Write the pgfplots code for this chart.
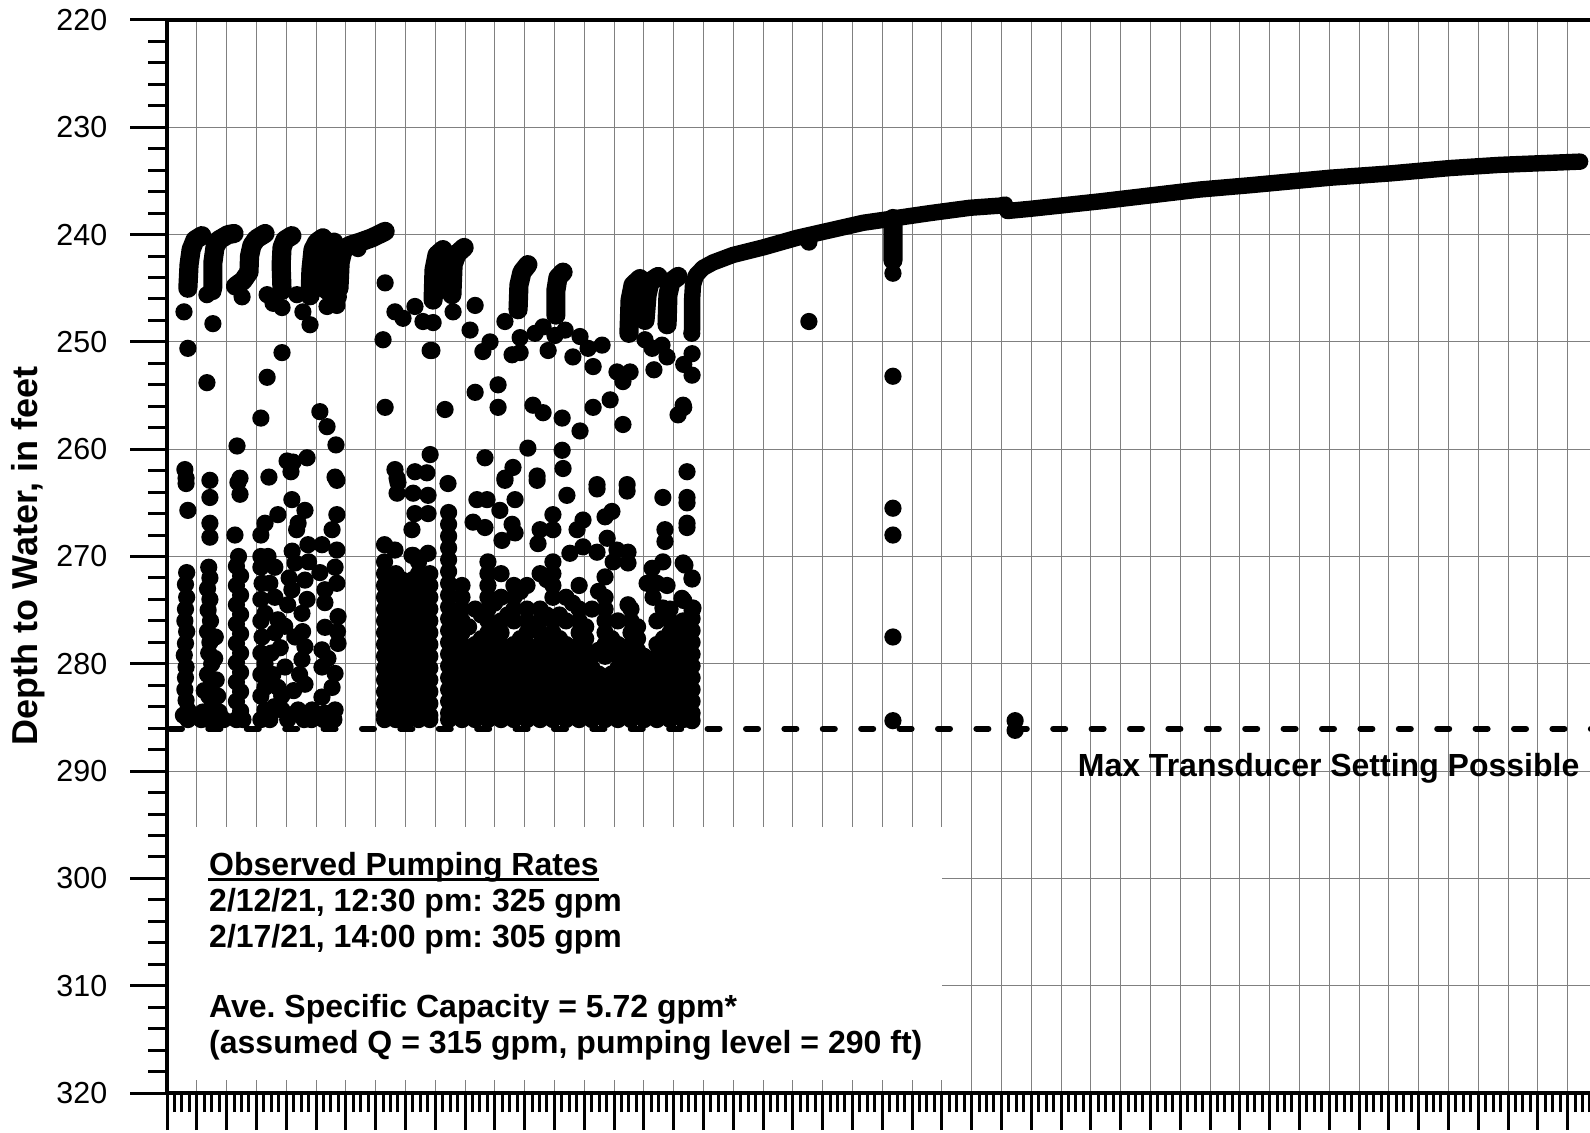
\documentclass[border=0pt]{standalone}
\usepackage{fontspec}
\setmainfont{Liberation Sans}
\usepackage{pgfplots}
\pgfplotsset{compat=1.18}
\usepackage{pgfplotstable}

% recovery arcs recorded between pumping cycles (nan separates arcs)
\pgfplotstableread{
day depth
0.70 245.0
0.74 242.8
0.81 241.4
0.94 240.5
1.17 240.1
nan nan
1.54 244.9
1.54 242.6
1.61 241.2
1.74 240.5
2.05 240.0
2.25 239.9
nan nan
2.30 244.8
2.55 244.3
2.75 243.5
2.77 242.0
2.85 241.0
3.00 240.4
3.29 239.9
nan nan
3.86 245.2
3.83 242.8
3.86 241.2
3.96 240.5
4.19 240.1
nan nan
4.80 245.7
4.83 243.3
4.90 241.4
5.03 240.7
5.23 240.3
nan nan
5.37 245.2
5.44 242.8
5.50 241.2
5.60 240.7
nan nan
5.77 245.0
5.81 242.6
5.91 241.4
6.14 241.0
6.48 240.7
6.88 240.3
7.32 239.7
nan nan
8.93 246.1
8.96 243.3
9.06 241.9
9.26 241.4
nan nan
9.56 245.6
9.60 242.8
9.73 241.8
9.97 241.2
nan nan
11.78 247.0
11.81 244.7
11.91 243.5
12.11 242.8
nan nan
13.05 247.5
13.05 245.2
13.12 244.0
13.29 243.5
nan nan
15.50 249.2
15.54 246.1
15.64 244.7
15.87 244.1
nan nan
16.04 248.0
16.11 245.6
16.21 244.4
16.48 243.9
nan nan
16.78 248.4
16.81 245.6
16.91 244.4
17.15 243.9
nan nan
24.36 238.5
24.36 242.4
}\hooks

% final recovery after the pump was shut off
\pgfplotstableread{
day depth
17.62 248.9
17.62 246.1
17.65 244.7
17.75 243.8
17.99 243.1
18.32 242.6
18.99 241.9
20.00 241.2
21.14 240.3
22.25 239.6
23.36 238.9
24.36 238.5
25.60 238.0
26.95 237.5
27.95 237.3
28.12 237.2
nan nan
28.20 237.8
28.96 237.6
31.31 236.9
34.66 235.8
36.34 235.4
39.03 234.7
41.04 234.3
43.05 233.8
44.73 233.5
47.42 233.2
}\recovery

\pgfplotsset{reading/.style={only marks, mark=*, mark size=1.95pt, black}}

\begin{document}
\frenchspacing
\begin{tikzpicture}
\useasboundingbox (-41.75pt,-9.75pt) rectangle (355.75pt,273.25pt);
\begin{axis}[
  at={(0pt,0pt)}, anchor=south west,
  scale only axis, width=365.05pt, height=268.25pt,
  xmin=0, xmax=49, ymin=220, ymax=320, y dir=reverse,
  xtick distance=1, minor x tick num=3, xticklabels={},
  ytick distance=10, minor y tick num=4,
  tick align=outside, tick pos=left,
  major tick length=9.25pt, minor tick length=4.75pt,
  every tick/.append style={black, line width=0.75pt},
  grid=major, major grid style={black!50, line width=0.25pt},
  axis line style={line width=0.9pt},
  /pgf/number format/assume math mode=true,
  yticklabel style={font=\fontsize{7.6}{9}\selectfont, inner sep=0pt, xshift=-5.5pt},
]
% note area
\fill[white] (axis cs:0.07,295.2) rectangle (axis cs:26.0,318.8);
\node[anchor=base west, inner sep=0pt, font=\bfseries\fontsize{8}{9.6}\selectfont] (obs) at (axis cs:1.39,299.7) {Observed Pumping Rates};
\draw[line width=0.75pt] ([yshift=-1pt]obs.base west) -- ([yshift=-1pt]obs.base east);
\node[anchor=base west, inner sep=0pt, font=\bfseries\fontsize{8}{9.6}\selectfont] at (axis cs:1.39,303.1) {2/12/21, 12:30 pm: 325 gpm};
\node[anchor=base west, inner sep=0pt, font=\bfseries\fontsize{8}{9.6}\selectfont] at (axis cs:1.39,306.4) {2/17/21, 14:00 pm: 305 gpm};
\node[anchor=base west, inner sep=0pt, font=\bfseries\fontsize{8}{9.6}\selectfont] at (axis cs:1.39,313.0) {Ave. Specific Capacity = 5.72 gpm*};
\node[anchor=base west, inner sep=0pt, font=\bfseries\fontsize{8}{9.6}\selectfont] at (axis cs:1.39,316.3) {(assumed Q = 315 gpm, pumping level = 290 ft)};

% transducer limit
\addplot[black, line width=1.5pt, line cap=round, dash pattern=on 3pt off 6.6pt] coordinates {(0.1,286.05) (49,286.05)};
\node[anchor=base east, inner sep=0pt, font=\bfseries\fontsize{8}{9.6}\selectfont] at (axis cs:47.42,290.5) {Max Transducer Setting Possible};

% continuous stretches
\addplot[black, line width=4.8pt, line cap=round, line join=round, unbounded coords=jump] table[x=day, y=depth] {\hooks};
\addplot[black, line width=4.1pt, line cap=round, line join=round, unbounded coords=jump] table[x=day, y=depth] {\recovery};

% scattered readings while pumping, upper part
\addplot[reading] coordinates {
(0.57,247.2) (0.70,250.6) (1.34,253.8) (1.54,248.3) (1.34,245.6) (1.54,245.3) (2.52,245.8) (3.36,245.6)
(3.56,246.4) (3.86,246.8) (3.36,253.3) (3.86,251.0) (3.15,257.1) (2.35,259.7) (4.36,245.6) (4.56,247.2)
(4.80,248.4) (5.37,246.7) (5.70,246.6) (5.13,256.5) (5.37,257.9) (5.67,259.6) (4.23,261.2) (4.70,260.8)
(4.16,262.1) (7.32,244.5) (7.65,247.2) (7.25,249.8) (7.32,256.1) (7.92,247.8) (8.32,246.7) (8.59,248.1)
(8.83,250.8) (6.41,241.3) (5.55,244.5) (5.75,245.8) (5.60,246.0)
(0.60,261.9) (0.64,262.7) (1.44,262.9) (2.45,262.7) (3.42,262.6) (5.64,262.6) (7.65,261.9) (7.72,262.7)
(8.32,262.1) (8.72,262.2) (8.83,260.5) (4.03,261.1)
(9.60,247.2) (8.93,248.2) (8.89,250.8) (10.34,246.6) (10.17,248.9) (10.84,250.0) (10.60,250.9) (11.34,248.1)
(11.85,249.6) (11.58,251.2) (11.85,251.0) (12.35,249.2) (12.62,248.6) (12.28,255.9) (12.62,256.6) (13.02,249.4)
(13.36,248.9) (12.79,250.8) (13.86,249.5) (13.62,251.4) (13.26,257.1) (13.86,258.3) (13.26,260.1) (13.29,261.8)
(14.13,250.6) (14.60,250.3) (14.30,252.3) (14.30,256.1) (14.87,255.4) (15.10,252.8) (15.54,252.8) (15.30,253.7)
(15.30,257.7) (14.43,263.3) (15.44,263.3) (16.04,249.8) (16.28,250.6) (16.61,250.3) (16.78,251.4) (16.34,252.6)
(17.32,255.9) (17.15,256.8) (9.33,256.3) (10.34,254.7) (11.11,254.0) (11.11,256.1) (10.67,260.8) (11.61,261.7)
(11.34,262.7) (12.11,259.9) (12.42,262.5)
(17.61,249.2) (17.62,251.1) (17.34,252.1) (17.62,253.1) (17.34,256.1) (17.45,262.1) (17.45,264.5) (17.45,267.3)
(17.38,270.8) (17.62,272.1) (17.34,274.1) (17.62,275.0)
};

% scattered readings while pumping, middle part
\addplot[reading] coordinates {
(9.43,263.2) (11.34,262.9) (12.42,262.9) (13.42,264.3) (14.43,263.7) (15.44,263.9) (16.64,264.5) (17.45,265.0)
(17.45,266.9) (10.40,264.7) (10.74,264.7) (10.27,266.8) (10.67,267.3) (11.17,265.7) (11.68,264.7) (11.58,267.0)
(11.68,267.8) (12.95,266.1) (12.95,267.5) (12.52,267.5) (13.76,267.5) (13.96,266.6) (14.70,266.3) (14.93,265.8)
(14.77,268.3) (16.71,267.5) (16.71,268.6) (11.24,268.5) (12.45,268.8) (13.52,269.7) (13.96,269.1) (14.43,269.6)
(15.10,269.4) (15.47,269.6) (15.47,270.6) (14.97,270.5) (14.70,271.9) (16.28,271.1) (16.64,270.5) (17.32,270.6)
(17.62,272.0) (16.11,272.5) (16.44,272.5) (16.78,272.7) (16.31,273.8) (16.64,274.8) (17.28,273.9) (17.65,274.8)
(15.47,274.5)
(9.90,272.7) (9.90,273.8) (9.90,274.9) (9.90,276.0) (10.34,274.9)
(10.77,270.5) (10.77,271.6) (10.77,272.7) (10.77,273.8) (10.77,274.9) (10.77,276.0)
(11.21,271.6) (11.21,273.8) (11.21,276.0) (11.64,272.7) (11.64,273.8) (11.64,274.9) (11.64,276.0)
(12.08,272.7) (12.08,274.9) (12.08,276.0) (12.52,271.6) (12.52,274.9) (12.52,276.0)
(12.95,270.5) (12.95,271.6) (12.95,272.7) (12.95,273.8) (12.95,276.0) (13.39,273.8) (13.39,276.0)
(13.83,272.7) (13.83,274.9) (13.83,276.0) (14.26,274.9) (14.70,273.8) (14.70,274.9) (14.70,276.0)
(15.13,276.0) (15.57,274.9) (15.57,276.0) (16.44,276.0) (16.88,274.9) (16.88,276.0) (17.32,276.0)
(17.62,275.8) (17.62,276.9) (10.55,275.45) (10.99,276.55) (12.74,275.45)
(10.12,276.55) (11.43,275.45) (12.30,276.55) (13.17,275.45) (14.05,276.55) (15.79,276.55) (16.66,275.45)
(17.10,276.55) (10.99,274.35) (11.86,273.25) (13.61,274.35) (14.48,273.25) (12.74,272.15)
};

% readings near the transducer limit, first days
\addplot[reading] coordinates {
(0.64,263.2) (0.70,265.7) (0.66,271.5) (0.62,272.6) (0.66,273.8) (0.62,274.9) (0.60,276.0) (0.66,277.0)
(0.62,278.1) (0.58,279.2) (0.64,280.3) (0.62,281.3) (0.60,282.4) (0.64,283.4) (0.70,284.3) (0.55,284.8) (0.70,285.2)
(1.44,264.5) (1.44,266.9) (1.44,268.2) (1.40,271.0) (1.44,272.0) (1.36,273.0) (1.44,274.0) (1.38,275.0)
(1.46,276.0) (1.36,277.0) (1.44,278.0) (1.40,279.0) (1.50,280.0) (1.36,281.0) (1.48,282.0) (1.40,283.0)
(1.50,284.0) (1.40,285.2) (1.60,279.5) (1.65,281.5) (1.70,283.0) (1.75,284.5) (1.90,285.2) (1.25,282.5)
(1.20,284.5) (1.15,285.2) (1.60,285.2) (1.55,283.5) (1.62,277.5)
(2.38,263.1) (2.45,264.2) (2.28,268.0) (2.40,270.0) (2.33,270.9) (2.47,271.8) (2.33,272.7) (2.47,273.6)
(2.33,274.5) (2.47,275.4) (2.33,276.3) (2.47,277.2) (2.33,278.1) (2.47,279.0) (2.33,279.9) (2.47,280.8)
(2.33,281.7) (2.47,282.6) (2.33,283.5) (2.47,284.4) (2.33,285.2) (2.55,285.2)
(3.29,266.9) (3.72,266.1) (4.19,264.7) (4.63,265.7) (4.40,266.9) (4.73,268.9) (3.39,270.0) (3.62,271.0)
(4.30,270.6) (4.63,272.2) (3.19,272.5) (3.62,273.8) (4.19,273.1) (3.72,275.9) (4.53,275.3) (3.29,275.3)
(3.19,277.5) (3.62,277.1) (4.30,277.5) (4.63,278.4) (3.29,280.0) (3.96,280.3) (4.53,279.6) (3.29,282.2)
(3.72,282.2) (4.63,281.9) (3.29,284.3) (3.86,284.3) (4.40,284.3) (4.87,284.3)
(3.15,268.0) (3.15,270.0) (3.15,271.0) (3.15,274.0) (3.15,276.0) (3.15,279.0) (3.15,281.0) (3.15,283.0)
(3.15,285.2) (3.45,285.2) (3.60,284.0) (3.85,283.0) (3.80,278.5) (3.95,276.5) (4.05,274.5) (4.10,272.0)
(4.20,269.5) (4.35,267.5) (4.05,285.2) (4.25,282.5) (4.45,281.0) (4.55,277.0) (4.70,274.0) (4.75,270.5)
(4.60,285.2) (4.85,285.2) (3.50,279.0) (3.55,281.0) (3.45,272.5)
(5.70,262.9) (5.70,266.1) (5.54,267.5) (5.20,268.9) (5.70,269.4) (5.64,271.0) (5.13,271.5) (5.30,273.1)
(5.30,274.3) (5.74,275.6) (5.30,276.6) (5.74,278.1) (5.20,278.7) (5.20,280.3) (5.64,280.9) (5.54,282.2)
(5.20,283.1) (5.64,284.3) (5.30,284.6) (5.25,285.2) (5.60,285.2) (5.70,272.5) (5.72,277.0) (5.40,279.5)
};

% readings near the transducer limit, second week
\addplot[reading] coordinates {
(7.30,268.9) (7.65,269.4) (8.26,269.9) (7.72,264.1) (7.75,263.1) (8.26,264.1) (8.76,264.3) (8.76,266.0)
(8.32,266.0) (8.22,267.5) (8.76,269.7) (8.22,269.9) (7.30,270.5) (8.44,270.5)
(7.30,271.6) (7.30,272.7) (7.30,273.8) (7.30,274.9) (7.30,276.0) (7.30,277.1) (7.30,278.2) (7.30,279.3)
(7.30,280.4) (7.30,281.5) (7.30,282.6) (7.30,283.7) (7.30,284.8) (7.30,285.2)
(7.68,271.6) (7.68,272.7) (7.68,273.8) (7.68,274.9) (7.68,276.0) (7.68,277.1) (7.68,278.2) (7.68,279.3)
(7.68,280.4) (7.68,281.5) (7.68,282.6) (7.68,283.7) (7.68,284.8) (7.68,285.2)
(8.06,272.7) (8.06,273.8) (8.06,274.9) (8.06,276.0) (8.06,277.1) (8.06,278.2) (8.06,279.3) (8.06,280.4)
(8.06,281.5) (8.06,282.6) (8.06,283.7) (8.06,284.8) (8.06,285.2)
(8.44,271.6) (8.44,272.7) (8.44,273.8) (8.44,274.9) (8.44,276.0) (8.44,277.1) (8.44,278.2) (8.44,279.3)
(8.44,280.4) (8.44,281.5) (8.44,282.6) (8.44,283.7) (8.44,284.8) (8.44,285.2)
(8.82,271.6) (8.82,272.7) (8.82,273.8) (8.82,274.9) (8.82,276.0) (8.82,277.1) (8.82,278.2) (8.82,279.3)
(8.82,280.4) (8.82,281.5) (8.82,282.6) (8.82,283.7) (8.82,284.8) (8.82,285.2)
(7.49,272.15) (7.49,273.25) (7.49,274.35) (7.49,275.45) (7.49,276.55) (7.49,277.65) (7.49,278.75) (7.49,279.85)
(7.49,280.95) (7.49,282.05) (7.49,283.15) (7.49,284.25)
(7.87,272.15) (7.87,273.25) (7.87,274.35) (7.87,275.45) (7.87,276.55) (7.87,277.65) (7.87,278.75) (7.87,279.85)
(7.87,280.95) (7.87,282.05) (7.87,283.15) (7.87,284.25)
(8.25,272.15) (8.25,273.25) (8.25,274.35) (8.25,275.45) (8.25,276.55) (8.25,277.65) (8.25,278.75) (8.25,279.85)
(8.25,280.95) (8.25,282.05) (8.25,283.15) (8.25,284.25)
(8.63,272.15) (8.63,273.25) (8.63,274.35) (8.63,275.45) (8.63,276.55) (8.63,277.65) (8.63,278.75) (8.63,279.85)
(8.63,280.95) (8.63,282.05) (8.63,283.15) (8.63,284.25)
(9.45,265.9) (9.45,267.0) (9.45,268.1) (9.45,269.2) (9.45,270.3) (9.45,271.4) (9.45,272.5) (9.45,273.6)
(9.45,274.7) (9.45,275.8) (9.45,276.9) (9.45,278.0) (9.45,279.1) (9.45,280.2) (9.45,281.3) (9.45,282.4)
(9.45,283.5) (9.45,284.6) (9.45,285.2)
};

% the last nine days of pumping, held near the transducer limit
\addplot[reading] coordinates {
(9.90,277.1) (9.90,278.2) (9.90,279.3) (9.90,280.4) (9.90,281.5) (9.90,282.6) (9.90,283.7) (9.90,284.8) (9.90,285.2)
(10.34,278.2) (10.34,279.3) (10.34,280.4) (10.34,281.5) (10.34,282.6) (10.34,283.7) (10.34,284.8) (10.34,285.2)
(10.77,277.1) (10.77,278.2) (10.77,279.3) (10.77,280.4) (10.77,281.5) (10.77,282.6) (10.77,283.7) (10.77,284.8) (10.77,285.2)
(11.21,277.1) (11.21,278.2) (11.21,279.3) (11.21,280.4) (11.21,281.5) (11.21,282.6) (11.21,283.7) (11.21,284.8) (11.21,285.2)
(11.64,278.2) (11.64,279.3) (11.64,280.4) (11.64,281.5) (11.64,282.6) (11.64,283.7) (11.64,284.8) (11.64,285.2)
(12.08,277.1) (12.08,278.2) (12.08,279.3) (12.08,280.4) (12.08,281.5) (12.08,282.6) (12.08,283.7) (12.08,284.8) (12.08,285.2)
(12.52,277.1) (12.52,278.2) (12.52,279.3) (12.52,280.4) (12.52,281.5) (12.52,282.6) (12.52,283.7) (12.52,284.8) (12.52,285.2)
(12.95,277.1) (12.95,278.2) (12.95,279.3) (12.95,280.4) (12.95,281.5) (12.95,282.6) (12.95,283.7) (12.95,284.8) (12.95,285.2)
(13.39,278.2) (13.39,279.3) (13.39,280.4) (13.39,281.5) (13.39,282.6) (13.39,283.7) (13.39,284.8) (13.39,285.2)
(13.83,277.1) (13.83,278.2) (13.83,279.3) (13.83,280.4) (13.83,281.5) (13.83,282.6) (13.83,283.7) (13.83,284.8) (13.83,285.2)
(14.26,279.3) (14.26,280.4) (14.26,281.5) (14.26,282.6) (14.26,283.7) (14.26,284.8) (14.26,285.2)
(14.70,277.1) (14.70,278.2) (14.70,279.3) (14.70,281.5) (14.70,282.6) (14.70,283.7) (14.70,284.8) (14.70,285.2)
(15.13,278.2) (15.13,279.3) (15.13,280.4) (15.13,281.5) (15.13,282.6) (15.13,283.7) (15.13,284.8) (15.13,285.2)
(15.57,277.1) (15.57,278.2) (15.57,279.3) (15.57,280.4) (15.57,281.5) (15.57,282.6) (15.57,283.7) (15.57,284.8) (15.57,285.2)
(16.01,279.3) (16.01,280.4) (16.01,281.5) (16.01,282.6) (16.01,283.7) (16.01,284.8) (16.01,285.2)
(16.44,278.2) (16.44,279.3) (16.44,280.4) (16.44,281.5) (16.44,282.6) (16.44,283.7) (16.44,284.8) (16.44,285.2)
(16.88,277.1) (16.88,278.2) (16.88,279.3) (16.88,280.4) (16.88,281.5) (16.88,282.6) (16.88,283.7) (16.88,284.8) (16.88,285.2)
(17.32,277.1) (17.32,278.2) (17.32,279.3) (17.32,280.4) (17.32,281.5) (17.32,282.6) (17.32,283.7) (17.32,284.8) (17.32,285.2)
(17.62,278.0) (17.62,279.1) (17.62,280.2) (17.62,281.3) (17.62,282.4) (17.62,283.5) (17.62,284.6) (17.62,285.3)
(9.68,277.65) (9.68,278.75) (9.68,279.85) (9.68,280.95) (9.68,282.05) (9.68,283.15) (9.68,284.25)
(10.12,278.75) (10.12,279.85) (10.12,280.95) (10.12,282.05) (10.12,283.15) (10.12,284.25)
(10.55,277.65) (10.55,278.75) (10.55,279.85) (10.55,280.95) (10.55,282.05) (10.55,283.15) (10.55,284.25)
(10.99,277.65) (10.99,278.75) (10.99,279.85) (10.99,280.95) (10.99,282.05) (10.99,283.15) (10.99,284.25)
(11.43,278.75) (11.43,279.85) (11.43,280.95) (11.43,282.05) (11.43,283.15) (11.43,284.25)
(11.86,277.65) (11.86,278.75) (11.86,279.85) (11.86,280.95) (11.86,282.05) (11.86,283.15) (11.86,284.25)
(12.30,278.75) (12.30,279.85) (12.30,280.95) (12.30,282.05) (12.30,283.15) (12.30,284.25)
(12.74,277.65) (12.74,278.75) (12.74,279.85) (12.74,280.95) (12.74,282.05) (12.74,283.15) (12.74,284.25)
(13.17,277.65) (13.17,278.75) (13.17,279.85) (13.17,280.95) (13.17,282.05) (13.17,283.15) (13.17,284.25)
(13.61,278.75) (13.61,279.85) (13.61,280.95) (13.61,282.05) (13.61,283.15) (13.61,284.25)
(14.05,277.65) (14.05,278.75) (14.05,279.85) (14.05,280.95) (14.05,282.05) (14.05,283.15) (14.05,284.25)
(14.48,278.75) (14.48,280.95) (14.48,282.05) (14.48,283.15) (14.48,284.25)
(14.92,277.65) (14.92,278.75) (14.92,280.95) (14.92,282.05) (14.92,283.15) (14.92,284.25)
(15.35,278.75) (15.35,279.85) (15.35,280.95) (15.35,282.05) (15.35,283.15) (15.35,284.25)
(15.79,277.65) (15.79,278.75) (15.79,279.85) (15.79,280.95) (15.79,282.05) (15.79,283.15) (15.79,284.25)
(16.23,279.85) (16.23,280.95) (16.23,282.05) (16.23,283.15) (16.23,284.25)
(16.66,277.65) (16.66,278.75) (16.66,279.85) (16.66,280.95) (16.66,282.05) (16.66,283.15) (16.66,284.25)
(17.10,277.65) (17.10,278.75) (17.10,279.85) (17.10,280.95) (17.10,282.05) (17.10,283.15) (17.10,284.25)
(17.47,277.65) (17.47,278.75) (17.47,279.85) (17.47,280.95) (17.47,282.05) (17.47,283.15) (17.47,284.25)
};

% isolated readings during recovery
\addplot[reading] coordinates {
(21.54,248.1) (21.54,240.7) (24.36,243.6) (24.36,253.2) (24.36,265.5) (24.36,268.0) (24.36,277.5)
(24.36,285.3) (28.46,285.3) (28.46,286.2)
};
\end{axis}
\node[rotate=90, font=\bfseries\fontsize{9}{11}\selectfont] at (-34.75pt,134.25pt) {Depth to Water, in feet};
\end{tikzpicture}
\end{document}
